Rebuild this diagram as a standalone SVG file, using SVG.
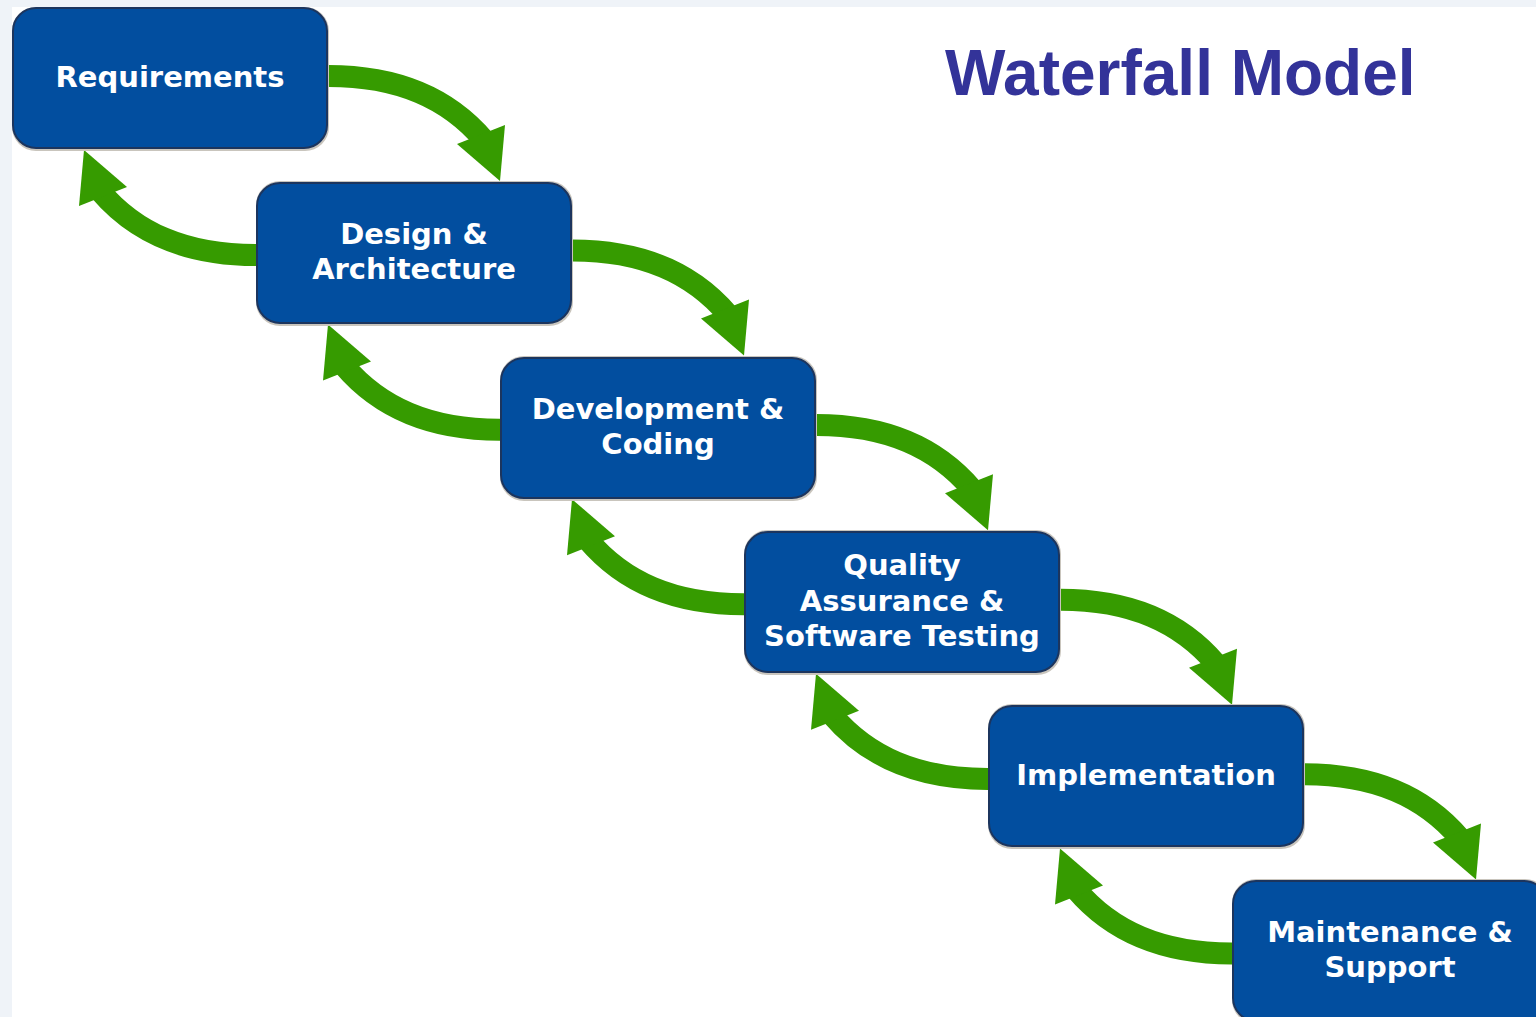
<svg xmlns="http://www.w3.org/2000/svg" width="1536" height="1017" viewBox="0 0 1536 1017">
  <style>
    .halo { fill: #c9c5bd; }
    .box { fill: #024e9f; stroke: #1c355e; stroke-width: 2; }
    .label { font-family: "DejaVu Sans", Verdana, sans-serif; font-weight: bold; font-size: 29px; fill: #ffffff; text-anchor: middle; }
    .title { font-family: "Liberation Sans", Arial, sans-serif; font-weight: bold; font-size: 64px; fill: #333399; }
    .shaft { fill: none; stroke: #369b00; stroke-width: 22; }
    .head { fill: #369b00; }
  </style>
  <defs>
    <!-- one curved arrow, drawn around the centre point between two stages -->
    <g id="arc">
      <path class="shaft" d="M28,-89.5 C108,-91.5 158,-65.5 192,-25.5"/>
      <polygon class="head" points="213,-40.5 165,-21.5 208,15.5"/>
    </g>
  </defs>

  <!-- page background -->
  <rect x="0" y="0" width="1536" height="1017" fill="#eff3f8"/>
  <rect x="12" y="7" width="1524" height="1010" fill="#ffffff"/>

  <text class="title" x="945" y="95">Waterfall Model</text>

  <!-- forward (down) and back (up) arrows between consecutive stages -->
  <g id="connectors">
    <use href="#arc" transform="translate(292,165.5)"/>
    <use href="#arc" transform="translate(292,165.5) rotate(180)"/>
    <use href="#arc" transform="translate(536,340.1)"/>
    <use href="#arc" transform="translate(536,340.1) rotate(180)"/>
    <use href="#arc" transform="translate(780,514.7)"/>
    <use href="#arc" transform="translate(780,514.7) rotate(180)"/>
    <use href="#arc" transform="translate(1024,689.3)"/>
    <use href="#arc" transform="translate(1024,689.3) rotate(180)"/>
    <use href="#arc" transform="translate(1268,863.9)"/>
    <use href="#arc" transform="translate(1268,863.9) rotate(180)"/>
  </g>

  <g id="requirements">
    <rect class="halo" x="12" y="7" width="317" height="144" rx="24"/>
    <rect class="box" x="13" y="8" width="314" height="140" rx="23"/>
    <text class="label" x="170" y="87">Requirements</text>
  </g>

  <g id="design">
    <rect class="halo" x="256" y="181" width="317" height="145" rx="24"/>
    <rect class="box" x="257" y="183" width="314" height="140" rx="23"/>
    <text class="label" x="414" y="244">Design &amp;</text>
    <text class="label" x="414" y="279">Architecture</text>
  </g>

  <g id="development">
    <rect class="halo" x="500" y="356" width="317" height="145" rx="24"/>
    <rect class="box" x="501" y="358" width="314" height="140" rx="23"/>
    <text class="label" x="658" y="419">Development &amp;</text>
    <text class="label" x="658" y="454">Coding</text>
  </g>

  <g id="quality">
    <rect class="halo" x="744" y="530" width="317" height="145" rx="24"/>
    <rect class="box" x="745" y="532" width="314" height="140" rx="23"/>
    <text class="label" x="902" y="575">Quality</text>
    <text class="label" x="902" y="611">Assurance &amp;</text>
    <text class="label" x="902" y="646">Software Testing</text>
  </g>

  <g id="implementation">
    <rect class="halo" x="988" y="704" width="317" height="145" rx="24"/>
    <rect class="box" x="989" y="706" width="314" height="140" rx="23"/>
    <text class="label" x="1146" y="785">Implementation</text>
  </g>

  <g id="maintenance">
    <rect class="halo" x="1232" y="879" width="317" height="145" rx="24"/>
    <rect class="box" x="1233" y="881" width="314" height="140" rx="23"/>
    <text class="label" x="1390" y="942">Maintenance &amp;</text>
    <text class="label" x="1390" y="977">Support</text>
  </g>
</svg>
